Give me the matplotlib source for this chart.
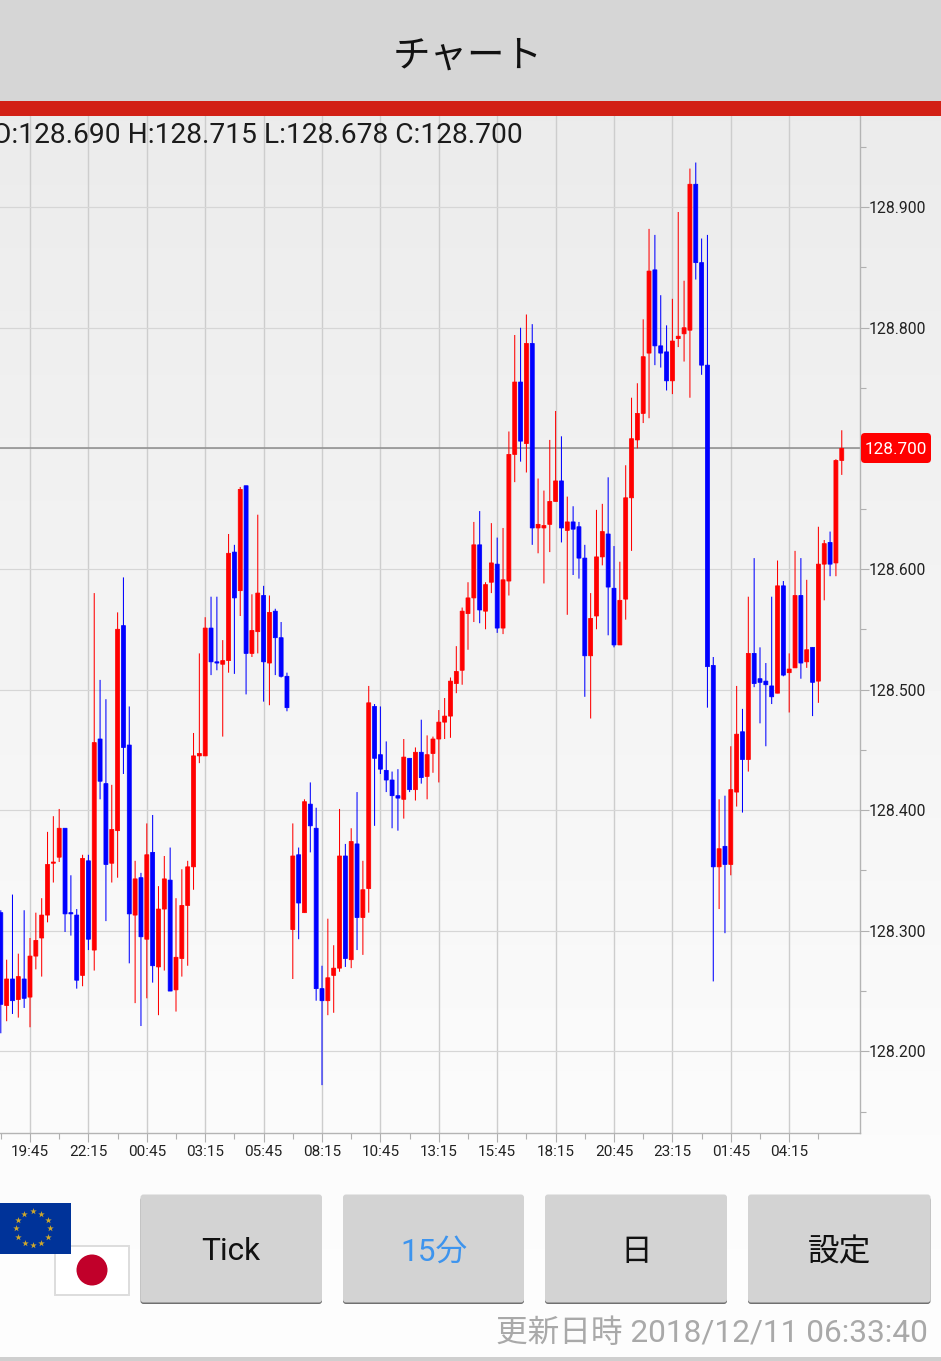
import numpy as np
import matplotlib
matplotlib.use("Agg")
import matplotlib.pyplot as plt
from matplotlib.patches import FancyBboxPatch, Rectangle, Circle

# ==========================
# Data (15 minute candles, 128.xxx)
# ==========================
opens = [
    128.315, 128.238, 128.260, 128.243, 128.260,
    128.245, 128.279, 128.294, 128.313, 128.356, 128.361, 128.385, 128.315, 128.313, 128.263,
    128.358, 128.284, 128.459, 128.422, 128.356, 128.383, 128.553, 128.454, 128.313, 128.344,
    128.293, 128.365, 128.270, 128.318, 128.342, 128.251, 128.277, 128.321, 128.353, 128.445,
    128.445, 128.551, 128.523, 128.521, 128.524, 128.614, 128.582, 128.669, 128.530, 128.548,
    128.578, 128.522, 128.565, 128.543, 128.511, 128.301, 128.363, 128.315, 128.405, 128.385,
    128.252, 128.242, 128.263, 128.269, 128.362, 128.276, 128.372, 128.311, 128.335, 128.486,
    128.446, 128.433, 128.425, 128.412, 128.409, 128.443, 128.417, 128.448, 128.428, 128.447,
    128.459, 128.473, 128.478, 128.505, 128.516, 128.563, 128.576, 128.620, 128.565, 128.589,
    128.604, 128.551, 128.590, 128.695, 128.755, 128.704, 128.787, 128.634, 128.634, 128.637,
    128.656, 128.673, 128.632, 128.639, 128.635, 128.609, 128.528, 128.561, 128.610, 128.629,
    128.584, 128.537, 128.575, 128.659, 128.707, 128.729, 128.779, 128.848, 128.785, 128.780,
    128.756, 128.791, 128.795, 128.798, 128.919, 128.854, 128.769, 128.520, 128.353, 128.370,
    128.355, 128.415, 128.465, 128.442, 128.530, 128.509, 128.507, 128.503, 128.497, 128.586,
    128.514, 128.518, 128.578, 128.523, 128.535, 128.507, 128.604, 128.622, 128.605, 128.690,
]
closes = [
    128.239, 128.260, 128.242, 128.262, 128.244,
    128.279, 128.292, 128.313, 128.355, 128.357, 128.385, 128.314, 128.314, 128.259, 128.360,
    128.293, 128.456, 128.424, 128.355, 128.384, 128.550, 128.452, 128.314, 128.343, 128.295,
    128.363, 128.271, 128.318, 128.343, 128.250, 128.278, 128.321, 128.353, 128.445, 128.447,
    128.551, 128.523, 128.522, 128.524, 128.613, 128.576, 128.666, 128.530, 128.549, 128.580,
    128.523, 128.564, 128.543, 128.511, 128.485, 128.362, 128.323, 128.407, 128.387, 128.252,
    128.242, 128.261, 128.269, 128.362, 128.277, 128.374, 128.311, 128.334, 128.489, 128.443,
    128.434, 128.425, 128.412, 128.410, 128.444, 128.417, 128.448, 128.427, 128.446, 128.459,
    128.473, 128.478, 128.507, 128.515, 128.565, 128.576, 128.620, 128.566, 128.587, 128.605,
    128.551, 128.591, 128.695, 128.755, 128.706, 128.787, 128.634, 128.637, 128.636, 128.656,
    128.673, 128.634, 128.639, 128.633, 128.609, 128.528, 128.559, 128.610, 128.631, 128.585,
    128.537, 128.574, 128.659, 128.708, 128.729, 128.776, 128.847, 128.785, 128.779, 128.756,
    128.789, 128.793, 128.800, 128.919, 128.854, 128.769, 128.519, 128.353, 128.368, 128.355,
    128.417, 128.463, 128.442, 128.530, 128.505, 128.506, 128.504, 128.494, 128.586, 128.512,
    128.517, 128.578, 128.522, 128.533, 128.506, 128.604, 128.621, 128.604, 128.690, 128.700,
]
highs = [
    128.317, 128.276, 128.330, 128.281, 128.317,
    128.294, 128.315, 128.327, 128.382, 128.395, 128.401, 128.385, 128.346, 128.318, 128.363,
    128.363, 128.580, 128.508, 128.492, 128.421, 128.564, 128.593, 128.486, 128.358, 128.348,
    128.389, 128.396, 128.337, 128.362, 128.369, 128.327, 128.351, 128.358, 128.464, 128.530,
    128.560, 128.577, 128.577, 128.541, 128.629, 128.620, 128.668, 128.669, 128.579, 128.645,
    128.586, 128.578, 128.567, 128.556, 128.514, 128.389, 128.369, 128.409, 128.423, 128.402,
    128.271, 128.310, 128.288, 128.401, 128.372, 128.385, 128.415, 128.358, 128.503, 128.488,
    128.486, 128.457, 128.432, 128.434, 128.459, 128.443, 128.452, 128.475, 128.462, 128.461,
    128.483, 128.493, 128.510, 128.536, 128.568, 128.589, 128.639, 128.648, 128.589, 128.638,
    128.626, 128.634, 128.714, 128.794, 128.800, 128.811, 128.803, 128.675, 128.665, 128.707,
    128.731, 128.710, 128.660, 128.652, 128.639, 128.620, 128.580, 128.649, 128.654, 128.676,
    128.619, 128.606, 128.686, 128.742, 128.754, 128.807, 128.882, 128.877, 128.827, 128.802,
    128.824, 128.896, 128.839, 128.932, 128.937, 128.874, 128.877, 128.527, 128.409, 128.412,
    128.453, 128.503, 128.484, 128.577, 128.609, 128.535, 128.522, 128.577, 128.607, 128.590,
    128.530, 128.615, 128.609, 128.591, 128.535, 128.635, 128.624, 128.631, 128.691, 128.715,
]
lows = [
    128.215, 128.225, 128.231, 128.228, 128.236,
    128.220, 128.268, 128.262, 128.307, 128.340, 128.357, 128.299, 128.296, 128.252, 128.254,
    128.284, 128.267, 128.409, 128.308, 128.340, 128.344, 128.430, 128.273, 128.240, 128.221,
    128.244, 128.257, 128.230, 128.267, 128.250, 128.233, 128.262, 128.271, 128.334, 128.439,
    128.445, 128.512, 128.516, 128.461, 128.514, 128.513, 128.561, 128.496, 128.527, 128.530,
    128.490, 128.487, 128.512, 128.510, 128.482, 128.260, 128.293, 128.315, 128.365, 128.242,
    128.172, 128.230, 128.232, 128.266, 128.270, 128.269, 128.284, 128.280, 128.315, 128.387,
    128.430, 128.415, 128.385, 128.383, 128.393, 128.415, 128.408, 128.422, 128.409, 128.431,
    128.423, 128.459, 128.460, 128.497, 128.504, 128.533, 128.556, 128.555, 128.550, 128.580,
    128.547, 128.546, 128.578, 128.672, 128.689, 128.680, 128.620, 128.613, 128.588, 128.614,
    128.656, 128.622, 128.562, 128.595, 128.592, 128.494, 128.476, 128.550, 128.603, 128.545,
    128.535, 128.537, 128.558, 128.615, 128.700, 128.721, 128.725, 128.769, 128.767, 128.748,
    128.745, 128.784, 128.772, 128.742, 128.840, 128.761, 128.485, 128.258, 128.318, 128.298,
    128.346, 128.403, 128.398, 128.432, 128.502, 128.472, 128.453, 128.488, 128.497, 128.511,
    128.481, 128.518, 128.509, 128.518, 128.478, 128.489, 128.574, 128.594, 128.594, 128.678,
]
time_labels = ["19:45", "22:15", "00:45", "03:15", "05:45", "08:15", "10:45",
               "13:15", "15:45", "18:15", "20:45", "23:15", "01:45", "04:15"]
price_ticks = [128.2, 128.3, 128.4, 128.5, 128.6, 128.7, 128.8, 128.9]
price_minor = [128.15, 128.25, 128.35, 128.45, 128.55, 128.65, 128.75, 128.85, 128.95]
first_index = -5  # candle 0 sits on the 19:45 tick

W, H = 941, 1361
LATIN = ["Roboto", "Noto Sans CJK JP"]
CJK = ["Noto Sans CJK JP", "DejaVu Sans"]

fig = plt.figure(figsize=(W / 100, H / 100), dpi=100)

# ==========================
# Page gradient
# ==========================
bg = fig.add_axes([0, 0, 1, 1], zorder=0)
shade = np.interp(np.arange(H), [0, 116, 1133, H], [235, 235, 251, 253]) / 255
bg.imshow(shade.reshape(-1, 1), cmap="gray", vmin=0, vmax=1, aspect="auto")
bg.axis("off")

# ==========================
# Candles
# ==========================
ax = fig.add_axes([0, 1 - 1133 / H, 860 / W, (1133 - 116) / H], zorder=1)
ax.patch.set_alpha(0)

opens_a, closes_a = np.array(opens), np.array(closes)
highs_a, lows_a = np.array(highs), np.array(lows)
idx = np.arange(len(opens)) + first_index
colors = np.where(closes_a < opens_a, "#0000ff", "#ff0000")

wicks = ax.vlines(idx, lows_a, highs_a, colors=colors, lw=0.75, zorder=3)
wicks.set_snap(False)
bars = ax.bar(idx, np.abs(closes_a - opens_a), bottom=np.minimum(opens_a, closes_a),
              width=0.68, color=colors, edgecolor=colors, lw=0.55, zorder=4)
for b in bars:
    b.set_snap(False)

ax.set_xlim((0 - 30.0) / 5.84, (860 - 30.0) / 5.84)
ax.set_ylim(128.1323, 128.9756)

ax.set_xticks(np.arange(len(time_labels)) * 10)
ax.set_xticklabels(time_labels, family=LATIN, fontsize=11, color="#222222")
ax.set_xticks(np.arange(len(time_labels) + 1) * 10 - 5, minor=True)
ax.yaxis.tick_right()
ax.set_yticks(price_ticks)
# the price tag covers the label of the level it sits on
ax.set_yticklabels(["" if abs(p - closes[-1]) < 1e-6 else f"{p:.3f}" for p in price_ticks],
                   family=LATIN, fontsize=11.3, color="#222222")
ax.set_yticks(price_minor, minor=True)
ax.tick_params(which="major", length=6.5, width=0.8, color="#b0b0b0", pad=-0.3)
ax.tick_params(which="minor", length=4.3, width=0.8, color="#b0b0b0")
ax.tick_params(axis="x", which="major", pad=2.5)

ax.set_axisbelow(True)
ax.grid(axis="x", color="#cdcdcd", lw=1.0)
ax.grid(axis="y", color="#d6d6d6", lw=0.85)
for side in ["left", "top"]:
    ax.spines[side].set_visible(False)
for side in ["right", "bottom"]:
    ax.spines[side].set_color("#b4b4b4")
    ax.spines[side].set_linewidth(1.0)

ax.axhline(closes[-1], color="#8c8c8c", lw=1.1, zorder=2)

# ==========================
# App chrome, in pixel coordinates
# ==========================
ui = fig.add_axes([0, 0, 1, 1], zorder=2)
ui.set_xlim(0, W)
ui.set_ylim(H, 0)
ui.axis("off")

ui.add_patch(Rectangle((0, 0), W, 100.5, fc="#d6d6d6", ec="none"))
ui.add_patch(Rectangle((0, 100.5), W, 15.5, fc="#d22015", ec="none"))
ui.text(467.5, 56, "チャート", family=CJK, fontsize=27, color="#111111", ha="center", va="center")
ui.text(523, 135, "O:128.690 H:128.715 L:128.678 C:128.700", family=LATIN, fontsize=20.25,
        color="#1c1c1c", ha="right", va="center")

# last price tag
ui.add_patch(FancyBboxPatch((861, 433), 70, 30, boxstyle="round,pad=0,rounding_size=4",
                            fc="#ff0000", ec="none"))
ui.text(896, 449, f"{closes[-1]:.3f}", family=LATIN, fontsize=12.3, color="white",
        ha="center", va="center")

# buttons
buttons = [(140.5, 322, "Tick", "#111111", LATIN), (343, 524, "15分", "#3d94ee", LATIN),
           (545, 727, "日", "#111111", CJK), (748, 930.5, "設定", "#111111", CJK)]
for x0, x1, label, col, fam in buttons:
    ui.add_patch(FancyBboxPatch((x0, 1197), x1 - x0, 107, boxstyle="round,pad=0,rounding_size=3",
                                fc="#707070", ec="none"))
    ui.add_patch(FancyBboxPatch((x0, 1194.5), x1 - x0, 108, boxstyle="round,pad=0,rounding_size=3",
                                fc="#d3d3d3", ec="none"))
    ui.text((x0 + x1) / 2, 1252, label, family=fam, fontsize=22.8, color=col, ha="center", va="center")

# flags
ui.add_patch(Rectangle((55, 1246), 74, 48.5, fc="white", ec="#dddddd", lw=1.4))
ui.add_patch(Circle((92, 1270), 15.5, fc="#c1002a", ec="none"))
ui.add_patch(Rectangle((0, 1202.5), 71, 51, fc="#003399", ec="none"))
angles = np.deg2rad(np.arange(12) * 30)
ui.scatter(33 + 17 * np.cos(angles), 1228.3 + 17 * np.sin(angles), s=24, marker="*",
           color="#cfa82c", linewidths=0)

ui.text(927.5, 1333.5, "更新日時 2018/12/11 06:33:40", family=LATIN, fontsize=22.8,
        color="#a9a9a9", ha="right", va="center")
ui.add_patch(Rectangle((0, 1357), W, 4, fc="#cfcfcf", ec="none"))

fig.savefig("out.png", dpi=100)
